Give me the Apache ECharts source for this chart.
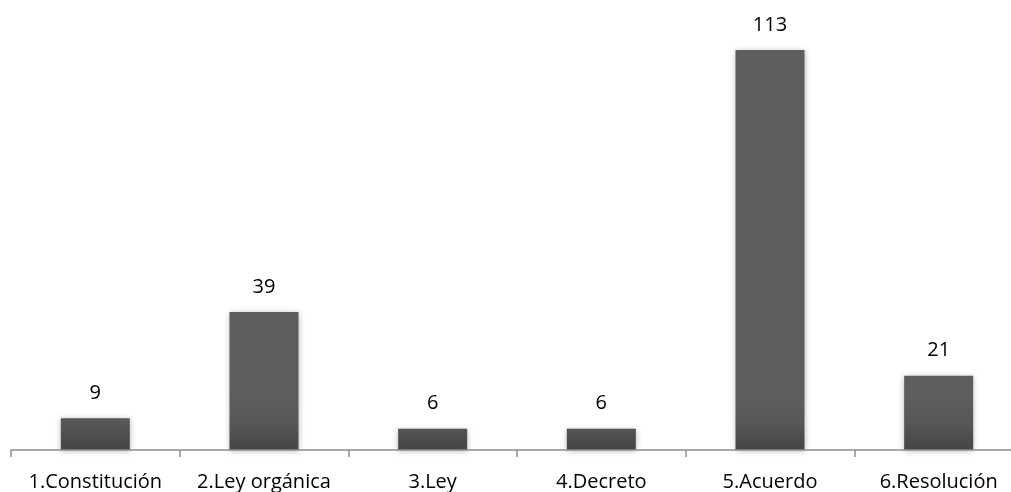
<!DOCTYPE html>
<html>
<head>
<meta charset="utf-8">
<script src="https://cdn.jsdelivr.net/npm/echarts@6/dist/echarts.min.js"></script>
<style>
  html, body { margin: 0; padding: 0; background: #ffffff; overflow: hidden; width: 1011px; height: 492px; }
  /* plot runs past the right edge of the page, last category is cut */
  #chart { width: 1023px; height: 492px; }
</style>
</head>
<body>
<div id="chart"></div>
<script>
// Number of norms by legal instrument type
const categories = ['1.Constitución', '2.Ley orgánica', '3.Ley', '4.Decreto', '5.Acuerdo', '6.Resolución'];
const counts = [9, 39, 6, 6, 113, 21];

const chart = echarts.init(document.getElementById('chart'), null, { renderer: 'canvas' });

const labelFont = 'Open Sans, Noto Sans, Liberation Sans, sans-serif';

chart.setOption({
  animation: false,
  backgroundColor: '#ffffff',
  grid: { left: 11, right: 0, top: 25.3, bottom: 41.7, containLabel: false },
  xAxis: {
    type: 'category',
    data: categories,
    z: 5,
    axisLine: { show: true, lineStyle: { color: '#8c8c8c', width: 1.5 } },
    axisTick: { show: true, length: 7, lineStyle: { color: '#8c8c8c', width: 1.5 } },
    axisLabel: { color: '#000000', fontFamily: labelFont, fontSize: 20, margin: 22, interval: 0 },
    splitLine: { show: false }
  },
  yAxis: {
    type: 'value',
    min: 0,
    max: 120,
    show: false,
    splitLine: { show: false }
  },
  series: [{
    type: 'bar',
    data: counts,
    barWidth: 69,
    itemStyle: {
      color: new echarts.graphic.LinearGradient(0, 395, 0, 451, [
        { offset: 0, color: '#5e5e5e' },
        { offset: 0.5, color: '#575757' },
        { offset: 1, color: '#444444' }
      ], true),
      shadowBlur: 6,
      shadowColor: 'rgba(0,0,0,0.28)',
      shadowOffsetX: 0,
      shadowOffsetY: 1
    },
    label: {
      show: true,
      position: 'top',
      distance: 15,
      color: '#000000',
      fontFamily: labelFont,
      fontSize: 20
    }
  }]
});
</script>
</body>
</html>
